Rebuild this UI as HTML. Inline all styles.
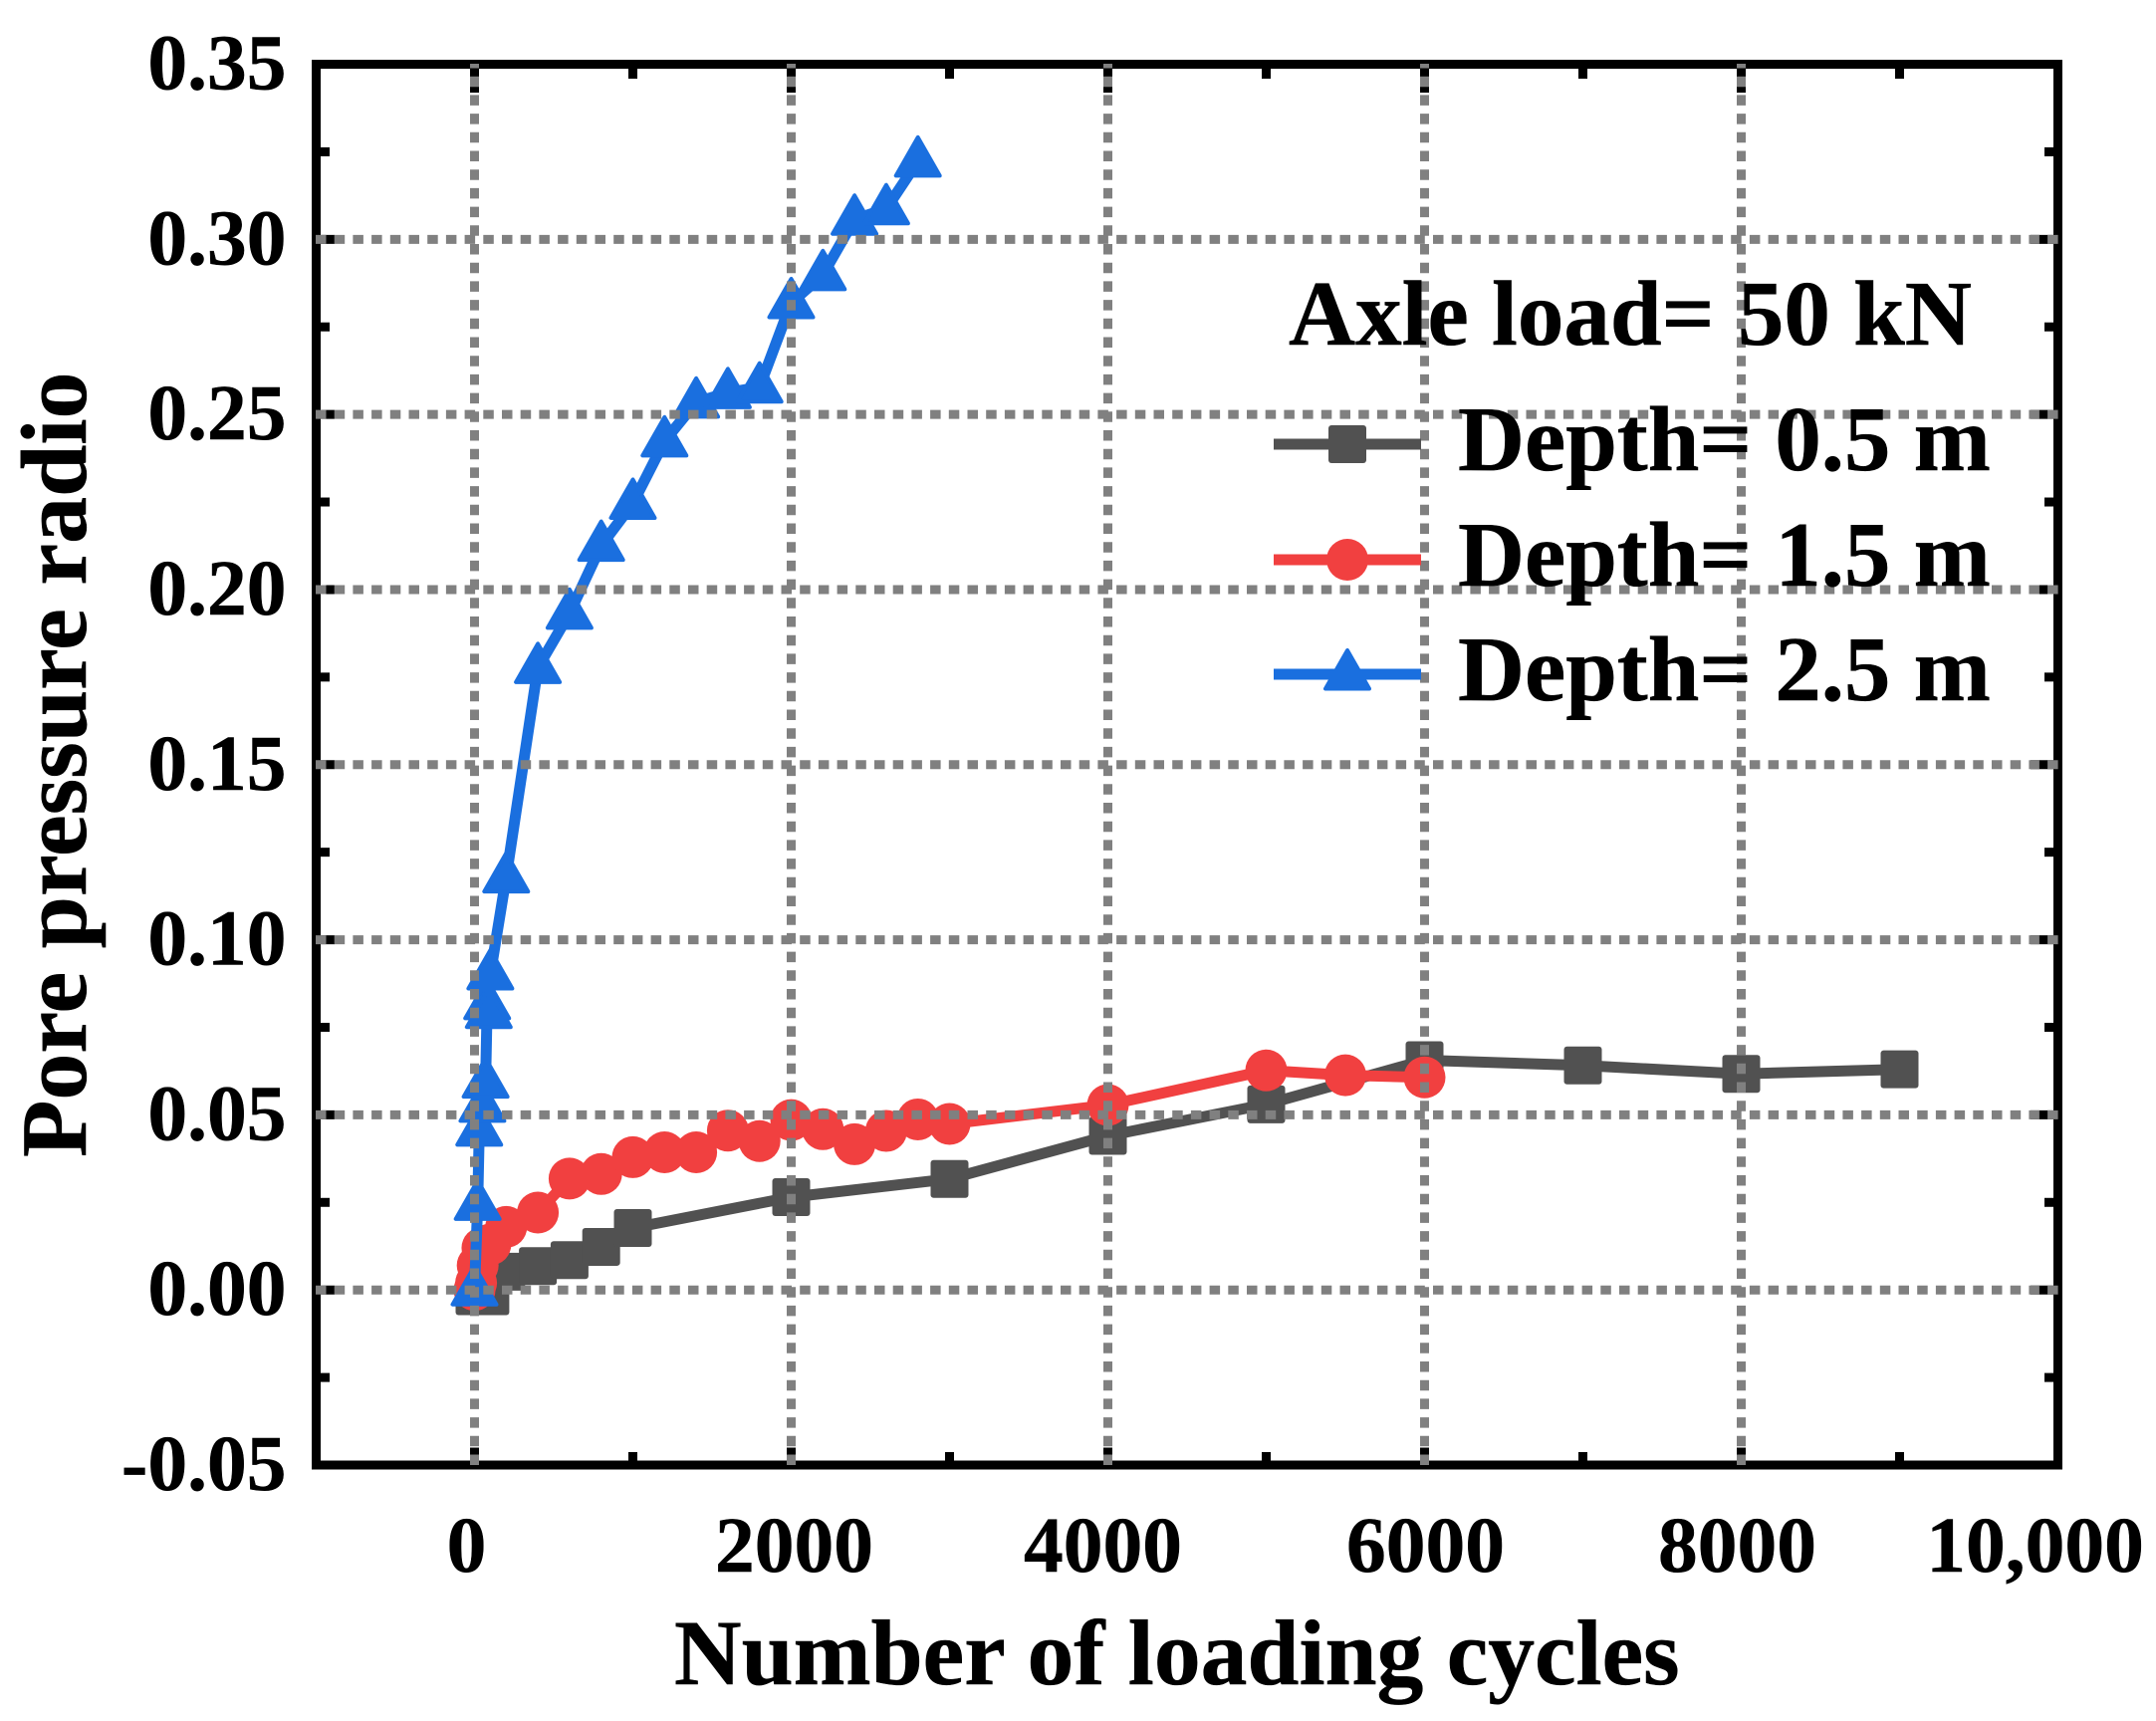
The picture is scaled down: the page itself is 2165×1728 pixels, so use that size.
<!DOCTYPE html>
<html lang="en">
<head>
<meta charset="utf-8">
<title>Pore pressure radio vs number of loading cycles</title>
<style>
html,body{margin:0;padding:0;background:#fff;}
svg{display:block;}
text{font-family:"Liberation Serif",serif;font-weight:bold;fill:#000;stroke:#000;stroke-width:0.5px;text-rendering:geometricPrecision;}
</style>
</head>
<body>
<svg id="chart" xmlns="http://www.w3.org/2000/svg" width="2165" height="1728" viewBox="0 0 2165 1728">
  <rect x="0" y="0" width="2165" height="1728" fill="#ffffff"/>
  <g id="series-layer"></g>
  <g id="tick-layer"></g>
  <rect x="317.5" y="64.5" width="1749" height="1406.5" fill="none" stroke="#000" stroke-width="9"/>
  <g id="grid-layer"></g>
  <g id="label-layer"></g>
  <text x="677" y="1691" font-size="93.6">Number of loading cycles</text>
  <text transform="translate(86,1162) rotate(-90)" font-size="94">Pore pressure radio</text>
  <g>
    <text x="1294" y="346" font-size="93">Axle load= 50 kN</text>
    <g>
      <line x1="1279" y1="446" x2="1427" y2="446" stroke="#515151" stroke-width="11"/>
      <rect x="1334" y="427" width="38" height="38" rx="3" fill="#515151"/>
      <text x="1464" y="472" font-size="92.8">Depth= 0.5 m</text>
    </g>
    <g>
      <line x1="1279" y1="562" x2="1427" y2="562" stroke="#F14040" stroke-width="11"/>
      <circle cx="1353" cy="562" r="21" fill="#F14040"/>
      <text x="1464" y="588" font-size="92.8">Depth= 1.5 m</text>
    </g>
    <g>
      <line x1="1279" y1="677" x2="1427" y2="677" stroke="#1A6FDF" stroke-width="11"/>
      <polygon points="1353,653 1331,691.5 1375,691.5" fill="#1A6FDF" stroke="#1A6FDF" stroke-width="4" stroke-linejoin="round"/>
      <text x="1464" y="703" font-size="92.8">Depth= 2.5 m</text>
    </g>
  </g>
</svg>
<script>
// ---- chart data ----
const depth05Cycles = [0, 10, 20, 50, 100, 200, 400, 600, 800, 1000, 2000, 3000, 4000, 5000, 6000, 7000, 8000, 9000];
const depth05Ratio = [-0.0018, -0.0018, -0.0018, -0.0018, -0.0018, 0.0052, 0.0068, 0.0085, 0.0123, 0.0177, 0.0265, 0.0317, 0.0440, 0.0530, 0.0656, 0.0641, 0.0617, 0.0630];
const depth15Cycles = [0, 10, 20, 50, 100, 200, 400, 600, 800, 1000, 1200, 1400, 1600, 1800, 2000, 2200, 2400, 2600, 2800, 3000, 4000, 5000, 5500, 6000];
const depth15Ratio = [0, 0.002, 0.007, 0.012, 0.013, 0.018, 0.0221, 0.0318, 0.0331, 0.0379, 0.0393, 0.0393, 0.0455, 0.0425, 0.0485, 0.0459, 0.0416, 0.0454, 0.0487, 0.0474, 0.0528, 0.0627, 0.0613, 0.0607];
const depth25Cycles = [0, 20, 30, 50, 70, 80, 90, 100, 200, 400, 600, 800, 1000, 1200, 1400, 1600, 1800, 2000, 2200, 2400, 2600, 2800];
const depth25Ratio = [0, 0.0244, 0.0456, 0.0524, 0.0593, 0.0817, 0.0792, 0.0902, 0.1179, 0.1777, 0.1932, 0.2126, 0.2246, 0.2424, 0.2535, 0.2562, 0.2578, 0.2819, 0.2899, 0.3057, 0.3087, 0.3223];
const xMajorTicks = [0, 2000, 4000, 6000, 8000, 10000];
const xMinorTicks = [1000, 3000, 5000, 7000, 9000];
const xTickLabels = ["0", "2000", "4000", "6000", "8000", "10,000"];
const yMajorTicks = [-0.05, 0, 0.05, 0.10, 0.15, 0.20, 0.25, 0.30, 0.35];
const yMinorTicks = [-0.025, 0.025, 0.075, 0.125, 0.175, 0.225, 0.275, 0.325];
const yTickLabels = ["-0.05", "0.00", "0.05", "0.10", "0.15", "0.20", "0.25", "0.30", "0.35"];
const xGridValues = [0, 2000, 4000, 6000, 8000];
const yGridValues = [0, 0.05, 0.10, 0.15, 0.20, 0.25, 0.30];

// ---- axis functions ----
const xScale = function (v) { return 317.5 + (v + 1000) / 11000 * 1749; };
const yScale = function (v) { return 1471 - (v + 0.05) / 0.40 * 1406.5; };

const NS = 'http://www.w3.org/2000/svg';
function make(tag, parent) {
  const el = document.createElementNS(NS, tag);
  parent.appendChild(el);
  return el;
}
function setAll(el, attrs) {
  Object.keys(attrs).forEach(function (k) { el.setAttribute(k, attrs[k]); });
}

// ---- series ----
const seriesLayer = document.getElementById('series-layer');
function drawSeries(slug, cycles, ratio, colour, kind) {
  const group = make('g', seriesLayer);
  
  
  const line = make('polyline', group);
  
  
  setAll(line, {
    points: cycles.map(function (c, i) { return xScale(c) + ',' + yScale(ratio[i]); }).join(' '),
    fill: 'none', stroke: colour, 'stroke-width': 11, 'stroke-linejoin': 'round'
  });
  cycles.forEach(function (c, i) {
    const px = xScale(c), py = yScale(ratio[i]);
    let m;
    if (kind === 'square') {
      m = make('rect', group);
      setAll(m, { x: px - 19, y: py - 19, width: 38, height: 38, rx: 3, fill: colour });
    } else if (kind === 'circle') {
      m = make('circle', group);
      setAll(m, { cx: px, cy: py, r: 21, fill: colour });
    } else {
      m = make('polygon', group);
      setAll(m, {
        points: px + ',' + (py - 24) + ' ' + (px - 22) + ',' + (py + 14.5) + ' ' + (px + 22) + ',' + (py + 14.5),
        fill: colour, stroke: colour, 'stroke-width': 4, 'stroke-linejoin': 'round'
      });
    }
    
    
  });
}
drawSeries('depth-0-5', depth05Cycles, depth05Ratio, '#515151', 'square');
drawSeries('depth-1-5', depth15Cycles, depth15Ratio, '#F14040', 'circle');
drawSeries('depth-2-5', depth25Cycles, depth25Ratio, '#1A6FDF', 'triangle');

// ---- ticks ----
const tickLayer = document.getElementById('tick-layer');
function drawTick(name, x1, y1, x2, y2) {
  const t = make('line', tickLayer);
  
  
  setAll(t, { x1: x1, y1: y1, x2: x2, y2: y2, stroke: '#000', 'stroke-width': 9 });
}
xMajorTicks.forEach(function (v) {
  drawTick('x-major-tick-bottom', xScale(v), 1471, xScale(v), 1453.5);
  drawTick('x-major-tick-top', xScale(v), 64.5, xScale(v), 93);
});
xMinorTicks.forEach(function (v) {
  drawTick('x-minor-tick-bottom', xScale(v), 1471, xScale(v), 1458);
  drawTick('x-minor-tick-top', xScale(v), 64.5, xScale(v), 79);
});
yMajorTicks.forEach(function (v) {
  drawTick('y-major-tick-left', 317.5, yScale(v), 336, yScale(v));
  drawTick('y-major-tick-right', 2066.5, yScale(v), 2039, yScale(v));
});
yMinorTicks.forEach(function (v) {
  drawTick('y-minor-tick-left', 317.5, yScale(v), 331, yScale(v));
  drawTick('y-minor-tick-right', 2066.5, yScale(v), 2053, yScale(v));
});

// ---- grid ----
const gridLayer = document.getElementById('grid-layer');
xGridValues.forEach(function (v) {
  const g = make('line', gridLayer);
  
  
  setAll(g, { x1: xScale(v), y1: 1471, x2: xScale(v), y2: 64, stroke: '#808080', 'stroke-width': 9, 'stroke-dasharray': '10.5 8.2' });
});
yGridValues.forEach(function (v) {
  const g = make('line', gridLayer);
  
  
  setAll(g, { x1: 317, y1: yScale(v), x2: 2067, y2: yScale(v), stroke: '#808080', 'stroke-width': 9, 'stroke-dasharray': '10.5 8.2' });
});

// ---- tick labels ----
const labelLayer = document.getElementById('label-layer');
const xLabelNudge = [-8, 3, -5, 1, -4, -23];
xMajorTicks.forEach(function (v, i) {
  const t = make('text', labelLayer);
  
  
  setAll(t, { x: xScale(v) + xLabelNudge[i], y: 1578, 'text-anchor': 'middle', 'font-size': 79.5 });
  t.textContent = xTickLabels[i];
});
yMajorTicks.forEach(function (v, i) {
  const t = make('text', labelLayer);
  
  
  setAll(t, { x: 287.5, y: yScale(v) + 25, 'text-anchor': 'end', 'font-size': 79.5 });
  t.textContent = yTickLabels[i];
});
</script>
</body>
</html>
